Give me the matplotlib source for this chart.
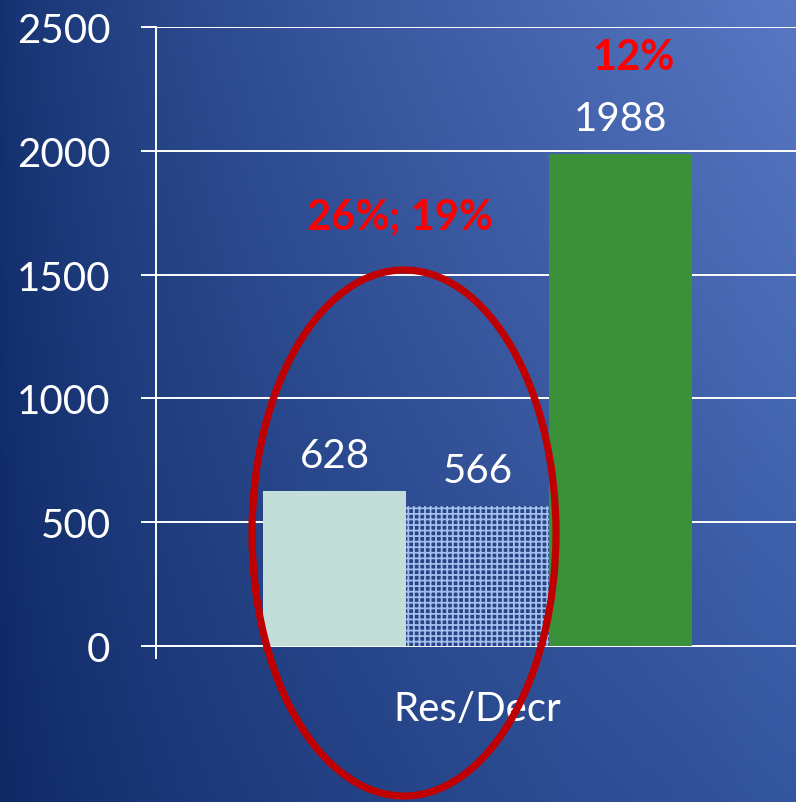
import numpy as np
import matplotlib
matplotlib.use("Agg")
import matplotlib.pyplot as plt
from matplotlib.patches import Ellipse

# ---- data ----
categories = ["Res/Decr"]
bar_values = [628, 566, 1988]
bar_labels = ["628", "566", "1988"]
yticks = [0, 500, 1000, 1500, 2000, 2500]
note_left = "26%; 19%"
note_right = "12%"

W, H, DPI = 796, 803, 100
plt.rcParams['font.family'] = ['Lato', 'DejaVu Sans']
plt.rcParams['hatch.linewidth'] = 1.3

fig = plt.figure(figsize=(W / DPI, H / DPI), dpi=DPI)

# ---- background gradient ----
bg = fig.add_axes([0, 0, 1, 1], zorder=-10)
bg.axis("off")
ny, nx = 200, 200
xf = np.linspace(0, 1, nx)[None, :] ** 0.75
yf = np.linspace(0, 1, ny)[:, None]  # 0 top, 1 bottom
TL = np.array([20, 49, 112]) / 255
TR = np.array([88, 120, 196]) / 255
BL = np.array([14, 40, 100]) / 255
BR = np.array([52, 86, 160]) / 255
top = TL[None, None, :] + xf[..., None] * (TR - TL)[None, None, :]
bot = BL[None, None, :] + xf[..., None] * (BR - BL)[None, None, :]
img = top * (1 - yf[..., None]) + bot * yf[..., None]
bg.imshow(np.clip(img, 0, 1), extent=[0, 1, 0, 1], aspect="auto", origin="upper")
bg.set_xlim(0, 1)
bg.set_ylim(0, 1)

# ---- main axes ----
ax = fig.add_axes([156 / W, 156 / H, 640 / W, 619 / H])
ax.patch.set_alpha(0)
x0 = -1.248
ax.set_xlim(x0, x0 + 640 / 143)
ax.set_ylim(0, 2500)

positions = [0, 1, 2]
colors = ["#c3ddd8", "#284483", "#3a913a"]
hatches = [None, "+++", None]
edgecols = ["#c3ddd8", "#a3bff0", "#3a913a"]
for p, v, c, h, ec in zip(positions, bar_values, colors, hatches, edgecols):
    ax.bar(p, v, width=1.0, color=c, hatch=h, edgecolor=ec, linewidth=0, zorder=3)

for p, v, lab in zip(positions, bar_values, bar_labels):
    ax.annotate(lab, (p, v), xytext=(0, 17), textcoords="offset points",
                ha="center", va="baseline", color="white", fontsize=29, zorder=5)

ax.set_axisbelow(True)
ax.set_yticks(yticks)
ax.set_yticklabels([str(t) for t in yticks])
ax.grid(axis="y", color="white", linewidth=1.4)
ax.tick_params(axis="y", colors="white", labelcolor="white", labelsize=29,
               length=10.8, width=1.4, direction="out", pad=22)
ax.set_xticks([1])
ax.set_xticklabels(categories)
ax.tick_params(axis="x", which="major", length=0, labelcolor="white",
               labelsize=29, pad=32)
ax.set_xticks([x0], minor=True)
ax.tick_params(axis="x", which="minor", length=9.5, width=1.4, color="white",
               direction="out")
for s in ["top", "right"]:
    ax.spines[s].set_visible(False)
for s in ["left", "bottom"]:
    ax.spines[s].set_color("white")
    ax.spines[s].set_linewidth(1.4)

ax.text(0.458, 1684, note_left, color="#ff0000", fontsize=30, fontweight="bold",
        ha="center", va="baseline", zorder=6)
ax.text(2.088, 2330, note_right, color="#ff0000", fontsize=30, fontweight="bold",
        ha="center", va="baseline", zorder=6)

ell = Ellipse((404 / DPI, (H - 534) / DPI), 304 / DPI, 526 / DPI,
              transform=fig.dpi_scale_trans, fill=False,
              edgecolor="#c00000", linewidth=5.2, zorder=20)
fig.add_artist(ell)

fig.savefig("out.png", dpi=DPI)
